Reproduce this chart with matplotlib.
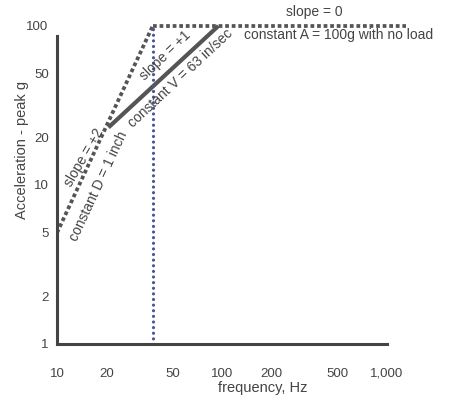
import numpy as np
import matplotlib.pyplot as plt

plt.rcParams['font.family'] = ['Liberation Sans', 'DejaVu Sans']

# Frequenz (Hz) und Beschleunigung (g)
x_ticks = [10, 20, 50, 100, 200, 500, 1000]
x_labels = ["10", "20", "50", "100", "200", "500", "1,000"]
y_ticks = [1, 2, 5, 10, 20, 50, 100]
y_labels = ["1", "2", "5", "10", "20", "50", "100"]

disp_f = [10, 38]        # constant D = 1 inch
disp_a = [5, 100]
vel_f = [20.5, 95]       # constant V = 63 in/sec
vel_a = [23, 100]
acc_f = [38, 1300]       # constant A = 100g
acc_a = [100, 100]
res_f = [38, 38]         # blaue Linie
res_a = [1, 100]

gray = "#555555"
text_col = "#444444"

fig = plt.figure(figsize=(4.51, 3.99), dpi=100)
ax = fig.add_axes([57/451, 55/399, 353/451, 334/399])
ax.set_xscale("log")
ax.set_yscale("log")
ax.set_xlim(10, 1377)
ax.set_ylim(1, 126)

ax.plot(disp_f, disp_a, color=gray, linewidth=2.7, dashes=(1, 0.75),
        dash_capstyle="butt")
ax.plot(acc_f, acc_a, color=gray, linewidth=2.7, dashes=(1, 0.75),
        dash_capstyle="butt")
ax.plot(vel_f, vel_a, color=gray, linewidth=3, solid_capstyle="butt")
ax.plot(res_f, res_a, color="#4b5398", linewidth=2.3, dashes=(0.01, 1.75),
        dash_capstyle="round")

for s in ["top", "right"]:
    ax.spines[s].set_visible(False)
for s in ["left", "bottom"]:
    ax.spines[s].set_linewidth(2.2)
    ax.spines[s].set_color("#444444")
ax.spines["left"].set_bounds(1, 86)
ax.spines["bottom"].set_bounds(10, 1000)

ax.set_xticks(x_ticks)
ax.set_xticklabels(x_labels)
ax.set_yticks(y_ticks)
ax.set_yticklabels(y_labels)
ax.minorticks_off()
ax.tick_params(axis="x", length=0, pad=17, labelsize=9.5, colors=text_col)
ax.tick_params(axis="y", length=0, pad=6, labelsize=9.5, colors=text_col)

ax.set_xlabel("frequency, Hz", fontsize=10.5, color=text_col)
ax.xaxis.set_label_coords(0.584, -0.112)
ax.set_ylabel("Acceleration - peak g", fontsize=10.5, color=text_col)
ax.yaxis.set_label_coords(-0.08, 0.58)

def ftext(px, py, s, rot=0):
    fig.text(px/451, 1 - py/399, s, fontsize=10, color=text_col, rotation=rot,
             ha="center", va="center", rotation_mode="anchor")

ftext(314, 12, "slope = 0")
ftext(339, 35, "constant A = 100g with no load")
ftext(165, 56, "slope = +1", 44)
ftext(180, 78, "constant V = 63 in/sec", 43)
ftext(84, 157, "slope = +2", 60)
ftext(99, 186, "constant D = 1 inch", 65)

fig.savefig("out.png", dpi=100)
